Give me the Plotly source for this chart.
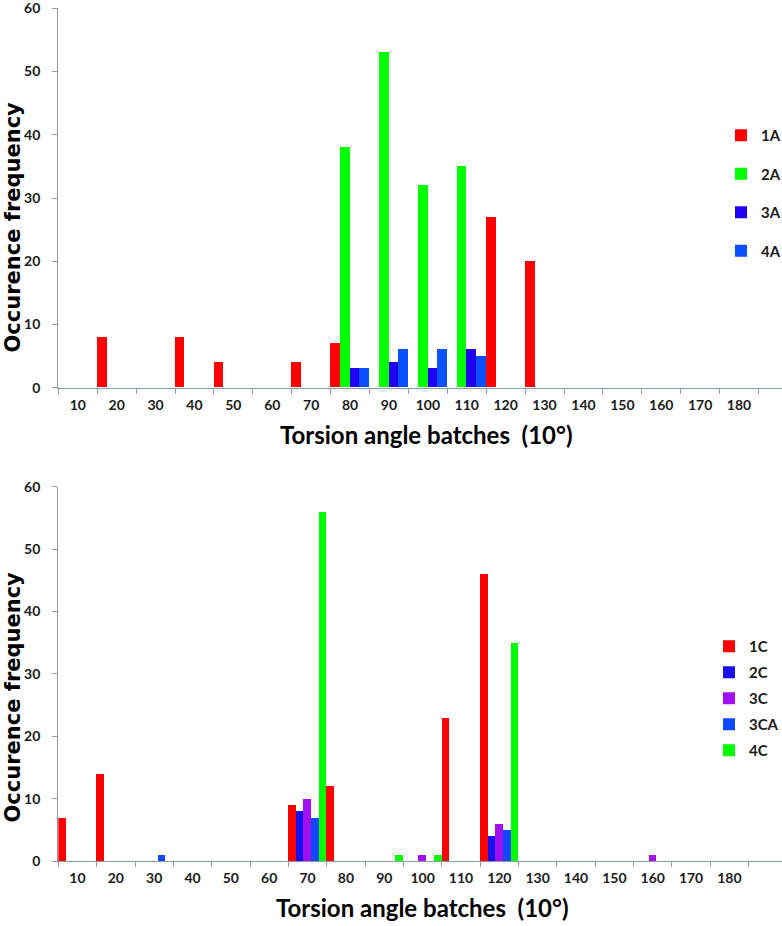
import plotly.graph_objects as go

# ---------------- data ----------------
categories = ["10", "20", "30", "40", "50", "60", "70", "80", "90", "100",
              "110", "120", "130", "140", "150", "160", "170", "180"]

# top chart (A series)
s1A = [0, 8, 0, 8, 4, 0, 4, 7, 0, 0, 0, 27, 20, 0, 0, 0, 0, 0]
s2A = [0, 0, 0, 0, 0, 0, 0, 38, 53, 32, 35, 0, 0, 0, 0, 0, 0, 0]
s3A = [0, 0, 0, 0, 0, 0, 0, 3, 4, 3, 6, 0, 0, 0, 0, 0, 0, 0]
s4A = [0, 0, 0, 0, 0, 0, 0, 3, 6, 6, 5, 0, 0, 0, 0, 0, 0, 0]

# bottom chart (C series)
s1C = [7, 14, 0, 0, 0, 0, 9, 12, 0, 0, 23, 46, 0, 0, 0, 0, 0, 0]
s2C = [0, 0, 0, 0, 0, 0, 8, 0, 0, 0, 0, 4, 0, 0, 0, 0, 0, 0]
s3C = [0, 0, 0, 0, 0, 0, 10, 0, 0, 1, 0, 6, 0, 0, 0, 1, 0, 0]
s3CA = [0, 0, 1, 0, 0, 0, 7, 0, 0, 0, 0, 5, 0, 0, 0, 0, 0, 0]
s4C = [0, 0, 0, 0, 0, 0, 56, 0, 1, 1, 0, 35, 0, 0, 0, 0, 0, 0]

top_series = [("1A", s1A, "#ff0000"), ("2A", s2A, "#00ff00"),
              ("3A", s3A, "#2000f0"), ("4A", s4A, "#0a50ff")]
bot_series = [("1C", s1C, "#ff0000"), ("2C", s2C, "#1a10ee"),
              ("3C", s3C, "#a010f0"), ("3CA", s3CA, "#1048ff"),
              ("4C", s4C, "#00ff00")]

y_title = "Occurence frequency"
x_title = "Torsion angle batches  (10°)"

# ---------------- figure ----------------
# The reference axis lines run off the right edge of the 782 px picture,
# so the figure is a little wider than the window and cropped there.
VIEW_W = 782
W, H = 800, 926
FONT = "Lato"
AXIS_COLOR = "#8a9ca4"
TEXT_COLOR = "#1a1a1a"

fig = go.Figure()

for name, vals, col in top_series:
    fig.add_trace(go.Bar(x=categories, y=vals, name=name, marker_color=col,
                         marker_line_width=0, xaxis="x", yaxis="y",
                         legend="legend", legendgroup=name))
for name, vals, col in bot_series:
    fig.add_trace(go.Bar(x=categories, y=vals, name=name, marker_color=col,
                         marker_line_width=0, xaxis="x2", yaxis="y2",
                         legend="legend2", legendgroup=name))

x0 = 58.3 / W
top_dom = [1 - 387.7 / H, 1 - 8.3 / H]
bot_dom = [1 - 861 / H, 1 - 486.7 / H]

def xaxis_cfg(px_per_cat, anchor):
    span = (W - 58.3) / px_per_cat
    return dict(
        type="category", categoryorder="array", categoryarray=categories,
        domain=[x0, 1], anchor=anchor, automargin=False,
        range=[-0.5, -0.5 + span],
        showline=True, linecolor=AXIS_COLOR, linewidth=1.3,
        ticks="outside", tickson="boundaries", ticklen=5,
        tickcolor=AXIS_COLOR, tickwidth=1,
        showgrid=False, zeroline=False, ticklabeloverflow="allow",
        tickfont=dict(family=FONT, size=14, color=TEXT_COLOR, weight="bold"),
        ticklabelstandoff=4,
    )

def yaxis_cfg(dom, anchor):
    return dict(
        domain=dom, anchor=anchor, automargin=False,
        range=[0, 60], dtick=10, tick0=0,
        showline=True, linecolor=AXIS_COLOR, linewidth=1.3,
        ticks="outside", ticklen=5, tickcolor=AXIS_COLOR,
        showgrid=False, zeroline=False, ticklabeloverflow="allow",
        tickfont=dict(family=FONT, size=14, color=TEXT_COLOR, weight="bold"),
        ticklabelstandoff=9,
    )

fig.update_layout(
    width=W, height=H,
    margin=dict(l=0, r=0, t=0, b=0, autoexpand=False),
    paper_bgcolor="white", plot_bgcolor="white",
    barmode="group", bargap=0, bargroupgap=0,
    xaxis=xaxis_cfg(38.9, "y"),
    yaxis=yaxis_cfg(top_dom, "x"),
    xaxis2=xaxis_cfg(38.35, "y2"),
    yaxis2=yaxis_cfg(bot_dom, "x2"),
    legend=dict(x=721 / W, xanchor="left", y=1 - 119 / H, yanchor="top",
                font=dict(family=FONT, size=15, color=TEXT_COLOR, weight="bold"),
                tracegroupgap=16, itemwidth=30, bgcolor="rgba(0,0,0,0)"),
    legend2=dict(x=709 / W, xanchor="left", y=1 - 630 / H, yanchor="top",
                 font=dict(family=FONT, size=15, color=TEXT_COLOR, weight="bold"),
                 tracegroupgap=3.5, itemwidth=30, bgcolor="rgba(0,0,0,0)"),
    showlegend=True,
)

annots = [
    dict(text=y_title, x=12.5 / W, y=1 - 227 / H, angle=-90, fam="DejaVu Sans", size=21),
    dict(text=y_title, x=12.5 / W, y=1 - 697 / H, angle=-90, fam="DejaVu Sans", size=21),
    dict(text=x_title, x=426 / W, y=1 - 434 / H, angle=0, fam=FONT, size=24),
    dict(text=x_title, x=422 / W, y=1 - 907 / H, angle=0, fam=FONT, size=24),
]
for a in annots:
    fig.add_annotation(text=a["text"], x=a["x"], y=a["y"], xref="paper", yref="paper",
                       xanchor="center", yanchor="middle", textangle=a["angle"],
                       showarrow=False,
                       font=dict(family=a["fam"], size=a["size"], color="#000000",
                                 weight="bold"))

fig.write_html("out.html",
               config={"displayModeBar": False},
               post_script="document.body.style.margin='0px';document.body.style.overflow='hidden';")
